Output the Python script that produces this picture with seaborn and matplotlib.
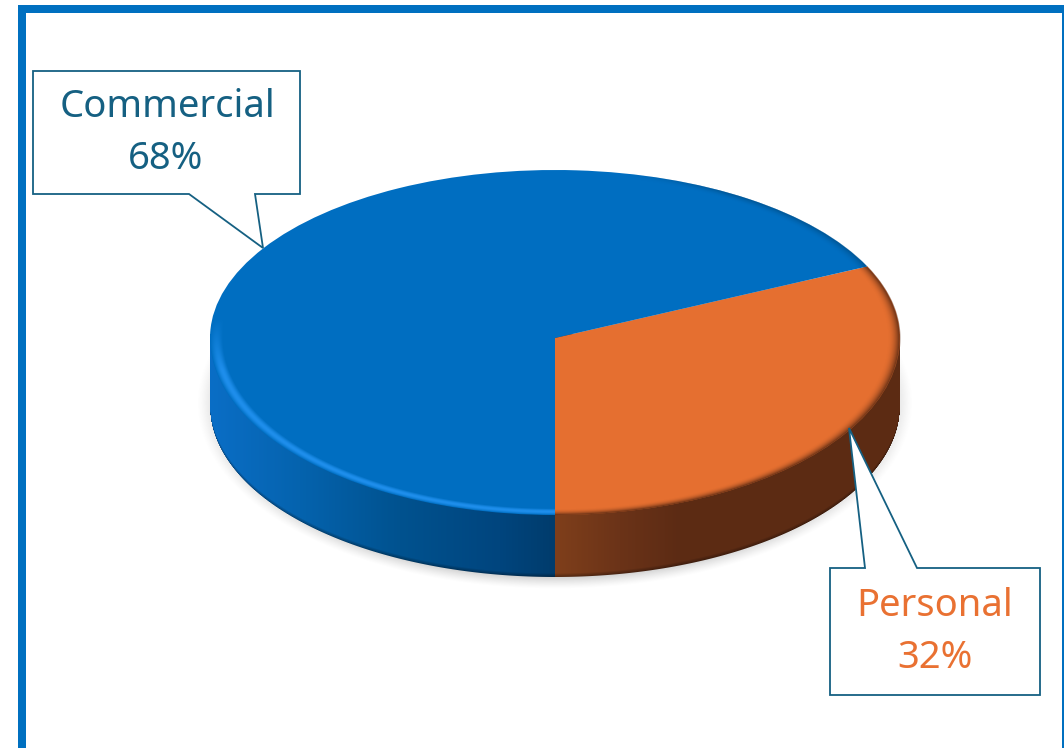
import numpy as np
import matplotlib
matplotlib.use("Agg")
import matplotlib.pyplot as plt
from matplotlib.patches import Polygon, Rectangle
import seaborn as sns

# Market split by segment
categories = ["Commercial", "Personal"]
shares = [68, 32]
slice_colors = ["#006EC1", "#E56F30"]
label_colors = ["#156082", "#E97132"]
frame_color = "#0070C0"
callout_edge = "#156082"

W, H = 1064, 748
CX, CY = 555.0, 338.0   # apex of the pie in pixels
RX, RY_BACK, RY_FRONT = 345.0, 168.0, 177.0
LOWER_CY, LOWER_RY = 406.0, 171.0   # lower rim of the disc

sns.set_theme(style="white")
plt.rcParams["font.family"] = ["Noto Sans", "DejaVu Sans"]

fig = plt.figure(figsize=(W / 100, H / 100), dpi=100, facecolor="white")


def pixel_axes(zorder):
    ax = fig.add_axes([0, 0, 1, 1], zorder=zorder)
    ax.set_xlim(0, W)
    ax.set_ylim(H, 0)
    ax.axis("off")
    ax.patch.set_alpha(0)
    return ax


under = pixel_axes(1)
over = pixel_axes(3)

xx, yy = np.meshgrid(np.arange(W) + 0.5, np.arange(H) + 0.5)
u = (xx - CX) / RX
v = np.where(yy < CY, (CY - yy) / RY_BACK, (CY - yy) / RY_FRONT)


def rgb(hexes):
    return np.array([matplotlib.colors.to_rgb(c) for c in hexes])


# Soft ground shadow below the disc
sr = np.hypot((xx - CX) / 358.0, (yy - 403.0) / 186.0)
shadow = np.zeros((H, W, 4))
shadow[..., :3] = 0.62
shadow[..., 3] = 0.42 * np.clip((1.0 - sr) / 0.06, 0, 1) ** 1.3
under.imshow(shadow, extent=(0, W, H, 0), aspect="auto", interpolation="bilinear")

# Side wall of the disc, split at the front seam
stops_blue_x = [210, 300, 400, 500, 555]
stops_blue = rgb(["#0A6EC6", "#0563AE", "#00528F", "#00457E", "#003C6C"])
stops_orange_x = [555, 620, 680, 900]
stops_orange = rgb(["#7F3F1B", "#6B3318", "#5C2B14", "#5C2B13"])

wall = np.zeros((H, W, 4))
for i in range(3):
    wall[..., i] = np.where(
        xx < CX,
        np.interp(xx, stops_blue_x, stops_blue[:, i]),
        np.interp(xx, stops_orange_x, stops_orange[:, i]),
    )
root = np.sqrt(np.clip(1 - u ** 2, 0, 1))
low = LOWER_CY + LOWER_RY * root
dist_low = low - yy
wall[..., :3] *= (1 - 0.35 * np.clip(1 - dist_low / 4.0, 0, 1))[..., None]
wall[..., 3] = (
    np.clip(dist_low + 0.5, 0, 1)
    * np.clip((1 - np.abs(u)) * RX + 0.5, 0, 1)
    * (yy > CY - 4)
)
under.imshow(wall, extent=(0, W, H, 0), aspect="auto", interpolation="nearest")
under.set_xlim(0, W)
under.set_ylim(H, 0)


# Top face: a real pie on a y scale that foreshortens back and front differently
def squash(y):
    y = np.asarray(y, dtype=float)
    return np.where(y > 0, y * RY_BACK, y * RY_FRONT)


def unsquash(p):
    p = np.asarray(p, dtype=float)
    return np.where(p > 0, p / RY_BACK, p / RY_FRONT)


pie_ax = fig.add_axes([0, 0, 1, 1], zorder=2)
pie_ax.patch.set_alpha(0)
pie_ax.pie(
    shares[::-1],
    colors=sns.color_palette(slice_colors[::-1]),
    startangle=270,
    counterclock=True,
    radius=1.0,
    wedgeprops={"linewidth": 0},
)
pie_ax.set_aspect("auto")
pie_ax.set_yscale("function", functions=(squash, unsquash))
pie_ax.set_xlim(-CX / RX, (W - CX) / RX)
pie_ax.set_ylim(-(H - CY) / RY_FRONT, CY / RY_BACK)
pie_ax.set_xticks([])
pie_ax.set_yticks([])
pie_ax.minorticks_off()
pie_ax.axis("off")

# Bevelled rim of the top face
r = np.hypot(u, v)
band = np.clip((r - 0.962) / 0.038, 0, 1)
phi = np.degrees(np.arctan2(v, u)) % 360
split = (270 + 3.6 * shares[1]) % 360
is_orange = (phi >= 270) | (phi < split)

bevel = np.zeros((H, W, 4))
hi = rgb(["#2090EE"])[0]
dk_blue = rgb(["#00406E"])[0]
dk_orange = rgb(["#5C2B13"])[0]
bump = np.sin(np.pi * np.clip(band, 0, 1)) ** 1.2
lit = np.clip((0.12 - v) / 0.3, 0, 1)
shade = np.clip((u - 0.2) / 0.3, 0, 1) * np.clip(v / 0.3, 0, 1)

alpha_hi = 0.95 * lit * bump
alpha_dk = 0.55 * shade * band ** 2
alpha_or = 0.95 * band ** 2.2
for i in range(3):
    bevel[..., i] = np.where(is_orange, dk_orange[i], np.where(alpha_hi > alpha_dk, hi[i], dk_blue[i]))
bevel[..., 3] = np.where(is_orange, alpha_or, np.maximum(alpha_hi, alpha_dk)) * np.clip((1 - r) * RX * 0.5 + 0.5, 0, 1) * (r > 0.9)
over.imshow(bevel, extent=(0, W, H, 0), aspect="auto", interpolation="bilinear")
over.set_xlim(0, W)
over.set_ylim(H, 0)

# Frame: heavy left and top, hairline right
under.add_patch(Rectangle((18, 5), 8, H - 5, fc=frame_color, ec="none"))
under.add_patch(Rectangle((18, 5), W - 18, 8, fc=frame_color, ec="none"))
under.add_patch(Rectangle((1061.5, 5), 2, H - 5, fc=frame_color, ec="none"))

# Callouts
callouts = [
    [(33, 71), (300, 71), (300, 194), (255, 194), (263, 248), (189, 194), (33, 194)],
    [(830, 568), (865, 568), (849, 428), (917, 568), (1040, 568), (1040, 695), (830, 695)],
]
name_pos = [(167, 107), (935, 606)]
value_pos = [(166, 159), (935, 658)]
for shape, name, share, color, p1, p2 in zip(
    callouts, categories, shares, label_colors, name_pos, value_pos
):
    over.add_patch(Polygon(shape, closed=True, fc="white", ec=callout_edge, lw=1.3, joinstyle="miter"))
    over.text(*p1, name, color=color, fontsize=27.5, fontweight="bold", ha="center", va="center")
    over.text(*p2, f"{share}%", color=color, fontsize=27.5, fontweight="bold", ha="center", va="center")

fig.savefig("out.png", dpi=100, facecolor="white")
